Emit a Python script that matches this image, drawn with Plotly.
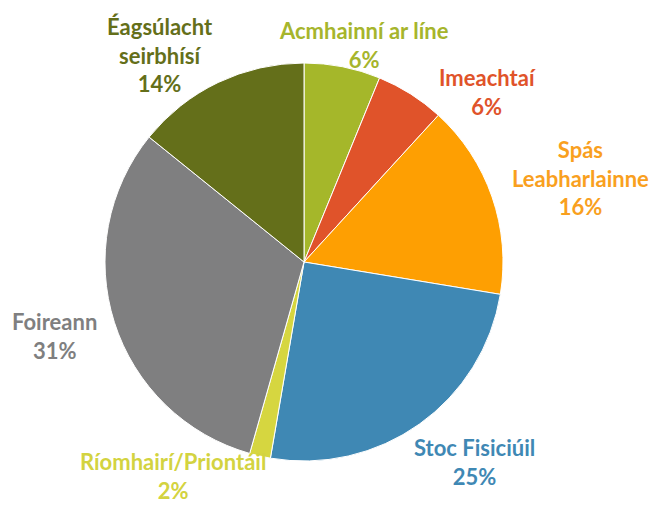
import plotly.graph_objects as go

categories = ["Acmhainní ar líne", "Imeachtaí", "Spás Leabharlainne", "Stoc Fisiciúil",
              "Ríomhairí/Priontáil", "Foireann", "Éagsúlacht seirbhísí"]
label_lines = ["Acmhainní ar líne", "Imeachtaí", "Spás<br>Leabharlainne", "Stoc Fisiciúil",
               "Ríomhairí/Priontáil", "Foireann", "Éagsúlacht<br>seirbhísí"]
values = [6.2, 5.6, 15.8, 25.1, 1.7, 31.4, 14.2]
colors = ["#a5b72a", "#e0532a", "#fe9f02", "#3f88b4", "#d6d640", "#7f7f80", "#646f1a"]
text_colors = ["#a6b52c", "#e0532a", "#f9a01e", "#3f88b4", "#d3d340", "#7f7f80", "#646f1a"]

# label anchor positions in window pixels (layout only)
label_pos = [(364, 45), (487, 92), (580, 178), (475, 462), (173, 476), (54, 336), (160, 55)]

OFF = 8  # default page body margin
W, H = 657 - OFF, 506 - OFF
cx, cy, r = 304 - OFF, 262 - OFF, 199

fig = go.Figure(go.Pie(
    labels=categories, values=values, sort=False, direction="clockwise", rotation=0,
    marker=dict(colors=colors, line=dict(color="white", width=1)),
    textinfo="none", hoverinfo="label+percent", showlegend=False,
    domain=dict(x=[(cx - r) / W, (cx + r) / W], y=[(H - cy - r) / H, (H - cy + r) / H]),
))

total = sum(values)
for lab, v, c, (px, py) in zip(label_lines, values, text_colors, label_pos):
    fig.add_annotation(
        x=(px - OFF) / W, y=1 - (py - OFF) / H, xref="paper", yref="paper", showarrow=False,
        text=f"{lab}<br>{round(v / total * 100)}%", align="center",
        xanchor="center", yanchor="middle",
        font=dict(family="Lato", size=22, color=c, weight="bold"),
    )

fig.update_layout(width=W, height=H, margin=dict(l=0, r=0, t=0, b=0),
                  paper_bgcolor="white", plot_bgcolor="white")
fig.write_html("out.html")
